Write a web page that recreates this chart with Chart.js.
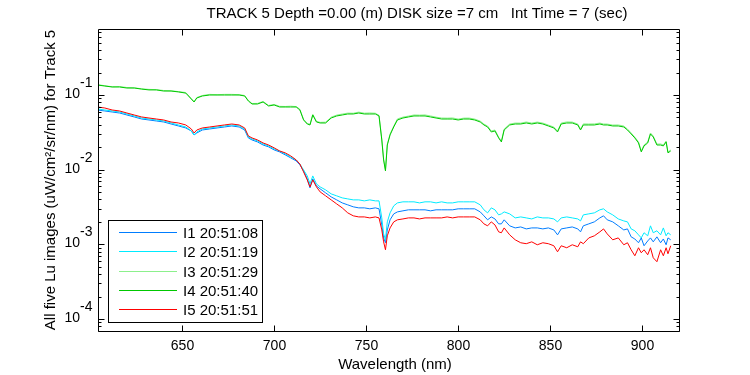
<!DOCTYPE html>
<html>
<head>
<meta charset="utf-8">
<script src="https://cdn.jsdelivr.net/npm/chart.js@4"></script>
<style>
  body { margin: 0; background: #fff; }
  #wrap { width: 750px; height: 375px; }
</style>
</head>
<body>
<div id="wrap"><canvas id="myChart" width="750" height="375"></canvas></div>
<script>
// wavelength grid (nm)
const wavelength = [
  604, 608, 612, 616, 620, 624, 628, 632, 636, 640,
  644, 648, 652, 655, 656.5, 658, 661, 665, 669, 673,
  677, 681, 684, 686, 688, 691, 694, 697, 700, 703,
  706, 709, 712, 714, 716, 718, 719.5, 721, 723, 725,
  728, 731, 734, 737, 740, 743, 746, 749, 752, 755,
  757, 758.5, 759.5, 760.5, 761.5, 763, 765, 767, 770, 773,
  776, 779, 782, 785, 788, 791, 794, 797, 800, 803,
  806, 809, 812, 814, 816, 818, 820, 822, 823.5, 825,
  828, 831, 834, 837, 840, 843, 846, 849, 852, 854,
  856, 859, 862, 865, 866.5, 868, 871, 874, 877, 879,
  881, 884, 887, 890, 892, 894, 896, 898, 899.5, 901,
  903, 904.5, 906, 908, 910, 911.5, 913, 914, 915.5
];

// Lu, uW/cm2/sr/nm
const lu_I1 = [
  0.0630, 0.0611, 0.0592, 0.0574, 0.0540, 0.0508, 0.0477, 0.0463, 0.0449, 0.0435,
  0.0409, 0.0385, 0.0362, 0.0330, 0.0292, 0.0310, 0.0340, 0.0351, 0.0362, 0.0373,
  0.0385, 0.0373, 0.0340, 0.0266, 0.0250, 0.0235, 0.0214, 0.0202, 0.0184, 0.0173,
  0.0158, 0.0144, 0.0131, 0.0116, 0.00963, 0.00752, 0.00570, 0.00752, 0.00606, 0.00553,
  0.00489, 0.00432, 0.00394, 0.00359, 0.00338, 0.00318, 0.00308, 0.00308, 0.00299, 0.00308,
  0.00299, 0.00182, 0.00122, 0.00105, 0.00156, 0.00213, 0.00256, 0.00272, 0.00281, 0.00290,
  0.00290, 0.00290, 0.00290, 0.00281, 0.00290, 0.00290, 0.00290, 0.00290, 0.00299, 0.00299,
  0.00299, 0.00299, 0.00272, 0.00241, 0.00213, 0.00233, 0.00219, 0.00188, 0.00188, 0.00213,
  0.00177, 0.00166, 0.00171, 0.00161, 0.00166, 0.00166, 0.00161, 0.00166, 0.00156, 0.00134,
  0.00161, 0.00166, 0.00171, 0.00161, 0.00147, 0.00177, 0.00188, 0.00200, 0.00226, 0.00241,
  0.00213, 0.00200, 0.00177, 0.00156, 0.00161, 0.00126, 0.00118, 0.00105, 0.00122, 0.000957,
  0.00111, 0.00122, 0.00108, 0.00126, 0.00105, 0.00118, 0.000987, 0.00122, 0.00115
];
const lu_I2 = [
  0.0650, 0.0630, 0.0611, 0.0592, 0.0557, 0.0524, 0.0492, 0.0477, 0.0463, 0.0449,
  0.0422, 0.0397, 0.0373, 0.0330, 0.0292, 0.0320, 0.0351, 0.0362, 0.0373, 0.0385,
  0.0397, 0.0385, 0.0351, 0.0274, 0.0258, 0.0243, 0.0221, 0.0208, 0.0190, 0.0178,
  0.0163, 0.0148, 0.0135, 0.0119, 0.00993, 0.00825, 0.00645, 0.00825, 0.00645, 0.00588,
  0.00536, 0.00474, 0.00446, 0.00419, 0.00406, 0.00394, 0.00394, 0.00382, 0.00394, 0.00382,
  0.00382, 0.00226, 0.00138, 0.00115, 0.00200, 0.00264, 0.00328, 0.00359, 0.00371, 0.00371,
  0.00371, 0.00359, 0.00371, 0.00371, 0.00359, 0.00371, 0.00359, 0.00359, 0.00371, 0.00371,
  0.00371, 0.00371, 0.00338, 0.00290, 0.00264, 0.00308, 0.00290, 0.00248, 0.00256, 0.00272,
  0.00256, 0.00226, 0.00233, 0.00226, 0.00219, 0.00233, 0.00226, 0.00226, 0.00219, 0.00200,
  0.00226, 0.00233, 0.00226, 0.00219, 0.00206, 0.00248, 0.00256, 0.00264, 0.00290, 0.00299,
  0.00272, 0.00248, 0.00219, 0.00206, 0.00200, 0.00161, 0.00152, 0.00134, 0.00122, 0.00143,
  0.00130, 0.00177, 0.00143, 0.00152, 0.00134, 0.00166, 0.00130, 0.00143, 0.00134
];
const lu_I3 = [
  0.138, 0.133, 0.129, 0.130, 0.126, 0.125, 0.121, 0.119, 0.118, 0.115,
  0.114, 0.111, 0.108, 0.0895, 0.0815, 0.0925, 0.0985, 0.102, 0.101, 0.102,
  0.102, 0.101, 0.0985, 0.0845, 0.0770, 0.0772, 0.0820, 0.0725, 0.0748, 0.0705,
  0.0702, 0.0708, 0.0700, 0.0645, 0.0472, 0.0418, 0.0405, 0.0552, 0.0445, 0.0430,
  0.0433, 0.0505, 0.0538, 0.0556, 0.0572, 0.0570, 0.0590, 0.0571, 0.0575, 0.0570,
  0.0535, 0.0258, 0.0138, 0.00990, 0.0220, 0.0300, 0.0385, 0.0478, 0.0506, 0.0522,
  0.0540, 0.0538, 0.0541, 0.0524, 0.0505, 0.0492, 0.0490, 0.0493, 0.0476, 0.0490,
  0.0491, 0.0476, 0.0447, 0.0408, 0.0384, 0.0330, 0.0340, 0.0273, 0.0242, 0.0350,
  0.0408, 0.0421, 0.0420, 0.0435, 0.0421, 0.0434, 0.0421, 0.0396, 0.0372, 0.0330,
  0.0421, 0.0436, 0.0434, 0.0408, 0.0350, 0.0410, 0.0409, 0.0410, 0.0421, 0.0409,
  0.0408, 0.0396, 0.0397, 0.0384, 0.0350, 0.0310, 0.0273, 0.0235, 0.0178, 0.0214,
  0.0235, 0.0310, 0.0282, 0.0220, 0.0221, 0.0214, 0.0242, 0.0173, 0.0183
];
const lu_I4 = [
  0.136, 0.132, 0.128, 0.128, 0.124, 0.124, 0.120, 0.117, 0.117, 0.113,
  0.113, 0.110, 0.106, 0.0884, 0.0806, 0.0912, 0.0970, 0.100, 0.100, 0.100,
  0.100, 0.100, 0.0970, 0.0831, 0.0758, 0.0758, 0.0806, 0.0713, 0.0735, 0.0691,
  0.0691, 0.0691, 0.0691, 0.0630, 0.0463, 0.0409, 0.0397, 0.0540, 0.0435, 0.0422,
  0.0422, 0.0492, 0.0524, 0.0540, 0.0557, 0.0557, 0.0574, 0.0557, 0.0557, 0.0557,
  0.0524, 0.0250, 0.0135, 0.00963, 0.0214, 0.0292, 0.0373, 0.0463, 0.0492, 0.0508,
  0.0524, 0.0524, 0.0524, 0.0508, 0.0492, 0.0477, 0.0477, 0.0477, 0.0463, 0.0477,
  0.0477, 0.0463, 0.0435, 0.0397, 0.0373, 0.0320, 0.0330, 0.0266, 0.0235, 0.0340,
  0.0397, 0.0409, 0.0409, 0.0422, 0.0409, 0.0422, 0.0409, 0.0385, 0.0362, 0.0320,
  0.0409, 0.0422, 0.0422, 0.0397, 0.0340, 0.0397, 0.0397, 0.0397, 0.0409, 0.0397,
  0.0397, 0.0385, 0.0385, 0.0373, 0.0340, 0.0301, 0.0266, 0.0228, 0.0173, 0.0208,
  0.0228, 0.0301, 0.0274, 0.0214, 0.0214, 0.0208, 0.0235, 0.0168, 0.0178
];
const lu_I5 = [
  0.0691, 0.0670, 0.0630, 0.0611, 0.0574, 0.0540, 0.0508, 0.0492, 0.0477, 0.0463,
  0.0435, 0.0422, 0.0397, 0.0351, 0.0310, 0.0340, 0.0362, 0.0373, 0.0385, 0.0397,
  0.0409, 0.0397, 0.0362, 0.0283, 0.0266, 0.0250, 0.0228, 0.0214, 0.0196, 0.0178,
  0.0168, 0.0153, 0.0135, 0.0119, 0.00934, 0.00730, 0.00588, 0.00730, 0.00588, 0.00504,
  0.00446, 0.00394, 0.00348, 0.00308, 0.00264, 0.00241, 0.00233, 0.00233, 0.00226, 0.00233,
  0.00226, 0.00156, 0.00108, 0.000846, 0.00130, 0.00166, 0.00200, 0.00213, 0.00219, 0.00226,
  0.00226, 0.00219, 0.00226, 0.00226, 0.00226, 0.00226, 0.00233, 0.00226, 0.00233, 0.00233,
  0.00233, 0.00233, 0.00213, 0.00188, 0.00177, 0.00200, 0.00182, 0.00147, 0.00143, 0.00166,
  0.00134, 0.00115, 0.00105, 0.00102, 0.00108, 0.000987, 0.00105, 0.00102, 0.000957, 0.000795,
  0.000957, 0.000900, 0.000987, 0.000928, 0.00108, 0.00102, 0.00122, 0.00130, 0.00147, 0.00161,
  0.00138, 0.00115, 0.00122, 0.000987, 0.00105, 0.000846, 0.000703, 0.000900, 0.000771, 0.000846,
  0.000725, 0.000900, 0.000661, 0.000585, 0.000846, 0.000703, 0.000900, 0.000748, 0.000957
];

const seriesNames = ['I1 20:51:08', 'I2 20:51:19', 'I3 20:51:29', 'I4 20:51:40', 'I5 20:51:51'];
const seriesColors = ['rgb(0,125,255)', 'rgb(0,235,255)', 'rgb(140,240,140)', 'rgb(0,200,0)', 'rgb(255,0,0)'];
const seriesValues = [lu_I1, lu_I2, lu_I3, lu_I4, lu_I5];

const xTicks = [650, 700, 750, 800, 850, 900];
const yDecades = [-4, -3, -2, -1];

const titleText = 'TRACK 5 Depth =0.00 (m) DISK size =7 cm   Int Time = 7 (sec)';
const xLabel = 'Wavelength (nm)';
const yLabel = 'All five Lu images (uW/cm\u00B2/sr/nm) for Track 5';

const FONT = '"Liberation Sans", Arial, sans-serif';

const datasets = seriesValues.map((vals, i) => ({
  label: seriesNames[i],
  data: vals.map((v, j) => ({ x: wavelength[j], y: v })),
  borderColor: seriesColors[i],
  backgroundColor: seriesColors[i],
  borderWidth: 1,
  pointRadius: 0,
  tension: 0,
  fill: false,
  order: seriesValues.length - 1 - i   // later images on top, like matlab
}));

// axes box, inward ticks, tick labels, titles and legend, matlab style
const matlabAxes = {
  id: 'matlabAxes',
  afterDraw(chart) {
    const ctx = chart.ctx;
    const a = chart.chartArea;
    const xs = chart.scales.x, ys = chart.scales.y;
    const L = a.left + 0.5, R = a.right + 0.5, T = a.top + 0.5, B = a.bottom + 0.5;

    ctx.save();
    ctx.strokeStyle = '#000';
    ctx.lineWidth = 1;
    ctx.beginPath();
    ctx.rect(L, T, R - L, B - T);
    ctx.stroke();

    // x ticks
    ctx.fillStyle = '#000';
    ctx.font = '14px ' + FONT;
    ctx.textAlign = 'center';
    ctx.textBaseline = 'alphabetic';
    xTicks.forEach(t => {
      const px = Math.round(xs.getPixelForValue(t)) + 0.5;
      ctx.beginPath();
      ctx.moveTo(px, B); ctx.lineTo(px, B - 6);
      ctx.moveTo(px, T); ctx.lineTo(px, T + 6);
      ctx.stroke();
      ctx.fillText(String(t), px, a.bottom + 19);
    });

    // y ticks, log decades with minor ticks
    const yMin = ys.min, yMax = ys.max;
    for (let d = -5; d <= 0; d++) {
      for (let k = 1; k <= 9; k++) {
        const v = k * Math.pow(10, d);
        if (v < yMin || v > yMax) continue;
        const py = Math.round(ys.getPixelForValue(v)) + 0.5;
        const len = k === 1 ? 6 : 3;
        ctx.beginPath();
        ctx.moveTo(L, py); ctx.lineTo(L + len, py);
        ctx.moveTo(R, py); ctx.lineTo(R - len, py);
        ctx.stroke();
      }
    }
    yDecades.forEach(d => {
      const py = Math.round(ys.getPixelForValue(Math.pow(10, d)));
      ctx.textAlign = 'right';
      ctx.fillText('10', 80, py + 3);
      ctx.textAlign = 'left';
      ctx.fillText(String(d), 80, py - 8);
    });

    // title and axis labels
    ctx.font = '15px ' + FONT;
    ctx.textAlign = 'center';
    ctx.fillText(titleText, 417, 18);
    ctx.fillText(xLabel, 395, 369);
    ctx.save();
    ctx.translate(55, 180);
    ctx.rotate(-Math.PI / 2);
    ctx.fillText(yLabel, 0, 0);
    ctx.restore();

    // legend
    const lx = 108.5, ly = 220.5, lw = 154, lh = 102;
    ctx.fillStyle = '#fff';
    ctx.fillRect(lx, ly, lw, lh);
    ctx.strokeStyle = '#000';
    ctx.strokeRect(lx, ly, lw, lh);
    ctx.font = '15px ' + FONT;
    ctx.textAlign = 'left';
    ctx.textBaseline = 'middle';
    seriesNames.forEach((name, i) => {
      const ry = Math.round(232 + i * 19.3) + 0.5;
      ctx.strokeStyle = seriesColors[i];
      ctx.beginPath();
      ctx.moveTo(119, ry); ctx.lineTo(177, ry);
      ctx.stroke();
      ctx.fillStyle = '#000';
      ctx.fillText(name, 183, ry + 1);
    });
    ctx.restore();
  }
};

const config = {
  type: 'line',
  data: { datasets: datasets },
  options: {
    responsive: false,
    animation: false,
    layout: { padding: { left: 98, right: 71, top: 29, bottom: 44 } },
    plugins: {
      legend: { display: false },
      title: { display: false },
      tooltip: { enabled: false }
    },
    scales: {
      x: { type: 'linear', min: 604.3, max: 920, display: false },
      y: { type: 'logarithmic', min: 6.91e-5, max: 0.7655, display: false }
    }
  },
  plugins: [matlabAxes]
};

const myChart = new Chart(document.getElementById('myChart'), config);
</script>
</body>
</html>
